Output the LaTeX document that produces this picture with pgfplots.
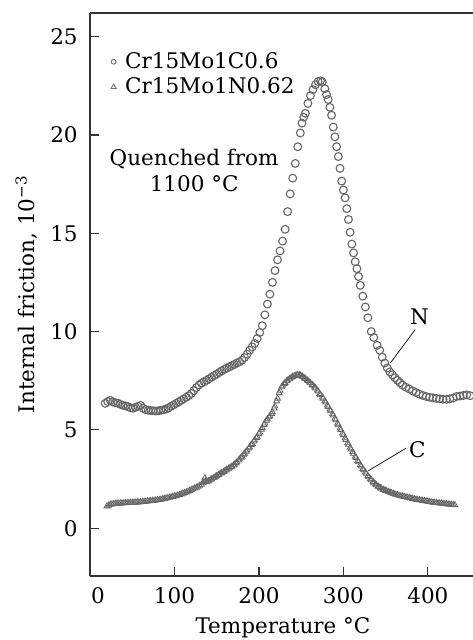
\documentclass[border=0pt]{standalone}
\usepackage{fontspec}
\setmainfont{DejaVu Serif}
\usepackage{pgfplots}
\pgfplotsset{compat=1.18}
\pgfplotstableread{
x y
18 6.35
21 6.44
24 6.50
27 6.42
30 6.38
33 6.36
36 6.30
39 6.25
42 6.22
45 6.18
48 6.12
51 6.10
54 6.15
57 6.20
60 6.25
63 6.10
66 6.03
69 6.00
72 5.98
75 5.97
78 5.96
81 5.97
84 6.00
87 6.02
90 6.06
93 6.12
96 6.20
99 6.27
102 6.35
105 6.42
108 6.50
111 6.58
114 6.66
117 6.74
120 6.85
123 7.00
126 7.15
129 7.28
132 7.38
135 7.45
138 7.52
141 7.60
144 7.68
147 7.76
150 7.84
153 7.92
156 8.00
159 8.08
162 8.14
165 8.20
168 8.27
171 8.33
174 8.40
177 8.46
180 8.55
183 8.68
186 8.85
189 9.05
192 9.22
195 9.40
198 9.65
201 9.95
204 10.30
207 10.85
210 11.40
213 11.90
216 12.50
219 13.10
222 13.65
225 14.10
228 14.60
231 15.20
234 16.10
237 17.00
240 17.80
243 18.55
246 19.40
249 20.10
251 20.60
253 20.90
255 21.10
258 21.60
261 22.00
264 22.30
267 22.55
270 22.72
273 22.75
275 22.70
278 22.35
280 22.05
282 21.80
284 21.40
286 21.00
288 20.40
290 19.90
292 19.40
294 18.90
296 18.30
298 17.65
300 17.20
302 16.80
304 16.25
306 15.70
308 15.05
310 14.45
312 14.00
314 13.55
316 13.20
318 12.80
320 12.35
323 11.80
326 11.25
329 10.70
333 10.00
336 9.70
340 9.30
343 9.05
346 8.70
349 8.40
352 8.15
355 7.95
358 7.80
361 7.65
364 7.52
367 7.40
370 7.28
374 7.17
378 7.08
382 6.98
386 6.90
390 6.82
394 6.75
398 6.70
402 6.66
406 6.63
410 6.60
414 6.58
418 6.56
422 6.55
426 6.58
430 6.62
434 6.70
438 6.72
442 6.75
446 6.78
450 6.74
}\dataN
\pgfplotstableread{
x y
20 1.12
22 1.16
24 1.20
26 1.22
28 1.24
30 1.25
32 1.26
34 1.26
36 1.27
38 1.27
40 1.28
42 1.28
44 1.29
46 1.29
48 1.30
50 1.30
52 1.31
54 1.31
56 1.32
58 1.32
60 1.33
62 1.34
64 1.35
66 1.36
68 1.37
70 1.38
72 1.39
74 1.40
76 1.41
78 1.42
80 1.43
82 1.44
84 1.46
86 1.48
88 1.50
90 1.52
92 1.54
94 1.56
96 1.58
98 1.60
100 1.62
102 1.64
104 1.67
106 1.70
108 1.73
110 1.76
112 1.80
114 1.83
116 1.87
118 1.91
120 1.95
122 1.99
124 2.03
126 2.07
128 2.12
130 2.17
132 2.22
134 2.30
135 2.35
136 2.55
137 2.40
138 2.35
140 2.39
141 2.42
143 2.47
144 2.50
146 2.55
147 2.58
149 2.63
150 2.66
152 2.71
153 2.74
155 2.79
156 2.82
158 2.87
159 2.90
161 2.95
162 2.98
164 3.03
165 3.06
167 3.11
168 3.14
170 3.20
171 3.24
173 3.32
174 3.36
176 3.45
177 3.50
179 3.60
180 3.65
182 3.75
183 3.80
185 3.90
186 3.96
188 4.06
189 4.12
191 4.24
192 4.30
194 4.42
195 4.48
197 4.60
198 4.66
200 4.80
201 4.88
203 5.02
204 5.10
206 5.26
207 5.34
209 5.48
210 5.55
212 5.65
213 5.70
215 5.82
216 5.90
218 6.10
219 6.20
221 6.46
222 6.60
224 6.88
225 7.00
227 7.18
228 7.25
230 7.35
231 7.40
233 7.48
234 7.52
236 7.59
237 7.62
239 7.68
240 7.70
242 7.74
243 7.76
245 7.79
246 7.80
248 7.79
249 7.78
251 7.73
252 7.70
254 7.63
255 7.60
257 7.53
258 7.50
260 7.42
261 7.38
263 7.30
264 7.26
266 7.17
267 7.12
269 7.01
270 6.96
272 6.84
273 6.78
275 6.66
276 6.60
278 6.47
279 6.40
281 6.25
282 6.18
284 6.03
285 5.96
287 5.81
288 5.74
290 5.58
291 5.50
293 5.33
294 5.25
296 5.08
297 5.00
299 4.83
300 4.75
302 4.58
303 4.50
305 4.33
306 4.25
308 4.10
309 4.02
311 3.87
312 3.80
314 3.65
315 3.58
317 3.43
318 3.36
320 3.22
321 3.15
323 3.02
324 2.96
326 2.84
327 2.78
329 2.66
330 2.60
332 2.50
333 2.45
335 2.36
336 2.32
338 2.24
339 2.20
341 2.13
342 2.10
344 2.05
345 2.02
347 1.97
348 1.95
350 1.91
351 1.89
353 1.86
354 1.84
356 1.81
357 1.79
359 1.76
360 1.74
362 1.71
364 1.69
366 1.66
368 1.64
370 1.62
372 1.60
374 1.58
376 1.56
378 1.54
380 1.52
382 1.50
384 1.48
386 1.46
388 1.45
390 1.43
392 1.42
394 1.40
396 1.39
398 1.37
400 1.36
402 1.34
404 1.33
406 1.31
408 1.30
410 1.29
412 1.28
414 1.27
416 1.26
418 1.25
420 1.24
422 1.23
424 1.22
426 1.21
428 1.20
430 1.19
432 1.18
}\dataC
\begin{document}
\fontsize{21.5}{25}\selectfont
\begin{tikzpicture}
\path[use as bounding box] (0,0) rectangle (472pt,640pt);
\begin{axis}[
  at={(90pt,64pt)}, anchor=south west,
  width=386pt, height=563pt, scale only axis,
  xmin=0, xmax=457, ymin=-2.43, ymax=26.2,
  axis x line*=bottom, axis y line*=left,
  axis line style={-, line width=1.2pt, color=black!80},
  every outer x axis line/.append style={-},
  every outer y axis line/.append style={-},
  tick align=inside, major tick length=9pt,
  tick style={line width=1.2pt, color=black!80},
  /pgf/number format/assume math mode=true,
  xtick={100,200,300,400},
  extra x ticks={0},
  extra x tick style={major tick length=0pt, tick label style={xshift=8pt}},
  ytick={0,5,10,15,20,25},
  tick label style={font=\fontsize{21.5}{25}\selectfont},
  xticklabel style={yshift=-4pt},
  yticklabel style={xshift=-5pt},
  label style={font=\fontsize{21.5}{25}\selectfont},
  xlabel={Temperature \textdegree C},
  ylabel={Internal friction, 10\textsuperscript{−3}},
  ylabel style={at={(axis description cs:-0.165,0.5)}, anchor=center},
  xlabel style={at={(axis description cs:0.5,0)}, anchor=center, yshift=-52pt},
  clip=false,
  legend cell align=left,
  legend style={at={(axis description cs:0.045,0.937)}, anchor=north west,
    draw=none, fill=none, font=\fontsize{21.5}{25}\selectfont,
    nodes={inner sep=1.5pt}, row sep=3pt,
    /tikz/every odd column/.append style={column sep=7pt}},
]
\addlegendimage{legend image code/.code={\draw[black!55, line width=0.9pt] (0pt,0pt) circle (2.4pt);}}
\addlegendentry{Cr15Mo1C0.6}
\addlegendimage{legend image code/.code={\draw[black!55, line width=0.9pt] (0pt,2.8pt) -- (-2.6pt,-1.6pt) -- (2.6pt,-1.6pt) -- cycle;}}
\addlegendentry{Cr15Mo1N0.62}
\addplot[only marks, mark=o, mark size=3.9pt, black!60, mark options={line width=1.1pt}, forget plot] table {\dataN};
\addplot[only marks, mark=triangle, mark size=3.4pt, black!60, mark options={line width=0.8pt}, forget plot] table {\dataC};
\draw[line width=1.2pt, black!80] (rel axis cs:0,1) -- (rel axis cs:1,1);
\node[align=center, font=\fontsize{21.5}{26}\selectfont] at (axis cs:123.3,18.2) {Quenched from\\1100 \textdegree C};
\node[font=\fontsize{21.5}{25}\selectfont] at (axis cs:390,10.75) {N};
\draw[line width=0.7pt] (axis cs:385,10.1) -- (axis cs:355.6,8.4);
\node[font=\fontsize{21.5}{25}\selectfont] at (axis cs:387.6,4.0) {C};
\draw[line width=0.7pt] (axis cs:374.5,4.08) -- (axis cs:329.5,2.92);
\end{axis}
\end{tikzpicture}
\end{document}
